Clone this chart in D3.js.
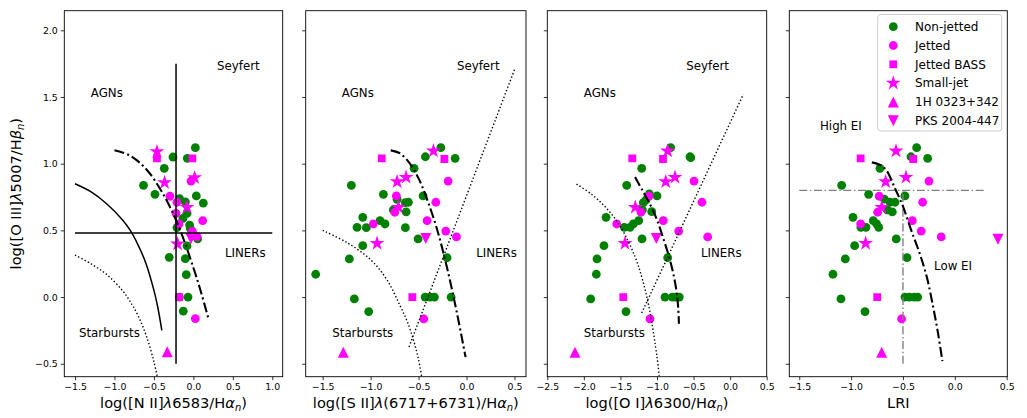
<!DOCTYPE html>
<html><head><meta charset="utf-8">
<script src="https://cdn.jsdelivr.net/npm/d3@7"></script>
<style>
body{margin:0;background:#fff}
svg{display:block}
text{font-family:"DejaVu Sans",sans-serif;fill:#000}
</style>
</head><body>
<svg id="c" width="1027" height="418"></svg>
<script>
// ---------------- DATA ----------------
const seriesNames = ["Non-jetted","Jetted","Jetted BASS","Small-jet","1H 0323+342","PKS 2004-447"];
const yTicks = [-0.5, 0, 0.5, 1.0, 1.5, 2.0];
const xTicksNII = [-1.5, -1.0, -0.5, 0, 0.5, 1.0];
const xTicksSII = [-1.5, -1.0, -0.5, 0, 0.5];
const xTicksOI  = [-2.5, -2.0, -1.5, -1.0, -0.5, 0, 0.5];
const xTicksLRI = [-1.5, -1.0, -0.5, 0, 0.5];

// Panel 1: [N II]
const nonJettedNII = [[0.025,1.12],[-0.259,1.05],[-0.077,1.04],[-0.369,0.965],[-0.632,0.838],[-0.487,0.77],[0.037,0.758],[0.126,0.705],[-0.175,0.738],[-0.102,0.713],[-0.081,0.628],[-0.132,0.59],[-0.048,0.54],[-0.208,0.52],[-0.039,0.514],[0.054,0.436],[-0.081,0.383],[-0.306,0.298],[-0.102,0.288],[-0.09,0.168],[-0.179,0.0],[-0.068,0.0],[-0.128,-0.106]];
const jettedNII = [[-0.297,0.756],[-0.208,0.711],[-0.22,0.628],[0.118,0.573],[-0.182,0.548],[-0.013,0.493],[0.046,0.453],[-0.03,0.87],[0.025,-0.162]];
const bassNII = [[-0.462,1.04],[-0.013,1.04],[-0.179,0.0]];
const smallJetNII = [[-0.462,1.09],[-0.365,0.858],[0.016,0.895],[-0.081,0.673],[-0.2,0.398]];
const h0323NII = [[-0.331,-0.41]];
const pksNII = [[-0.03,0.438]];

// Panel 2: [S II]
const nonJettedSII = [[-0.268,1.12],[-0.429,1.052],[-0.119,1.04],[-0.547,0.965],[-1.201,0.838],[-0.867,0.77],[-0.453,0.758],[-0.606,0.711],[-0.638,0.708],[-0.724,0.733],[-0.763,0.653],[-0.63,0.638],[-1.082,0.598],[-0.902,0.573],[-0.85,0.548],[-1.142,0.523],[-1.045,0.52],[-0.638,0.52],[-0.505,0.436],[-1.082,0.385],[-1.222,0.286],[-0.203,0.295],[-1.573,0.171],[-1.17,-0.014],[-0.432,0.0],[-0.38,0.0],[-0.335,0.0],[-0.161,0.0],[-1.02,-0.109]];
const jettedSII = [[-0.192,0.87],[-0.732,0.758],[-0.32,0.711],[-0.748,0.636],[-0.411,0.573],[-0.972,0.548],[-0.216,0.495],[-0.105,0.451],[-0.446,-0.164]];
const bassSII = [[-0.884,1.04],[-0.231,1.035],[-0.565,0.0]];
const smallJetSII = [[-0.345,1.095],[-0.63,0.898],[-0.724,0.865],[-0.71,0.673],[-0.933,0.403]];
const h0323SII = [[-1.285,-0.414]];
const pksSII = [[-0.425,0.44]];

// Panel 3: [O I]
const nonJettedOI = [[-0.813,1.12],[-0.549,1.052],[-0.539,1.045],[-1.209,0.965],[-1.414,0.838],[-1.105,0.773],[-1.0,0.758],[-1.15,0.728],[-1.187,0.708],[-1.2,0.653],[-1.072,0.64],[-1.697,0.598],[-1.25,0.573],[-1.324,0.548],[-1.447,0.523],[-1.369,0.523],[-1.205,0.436],[-1.725,0.385],[-1.82,0.286],[-0.854,0.295],[-1.83,0.171],[-1.907,-0.014],[-0.891,0.0],[-0.79,0.0],[-0.744,0.0],[-0.695,0.0],[-1.424,-0.109]];
const jettedOI = [[-0.494,0.87],[-1.109,0.756],[-0.385,0.711],[-1.219,0.636],[-0.914,0.573],[-1.551,0.548],[-0.703,0.495],[-0.307,0.451],[-1.096,-0.164]];
const bassOI = [[-1.338,1.04],[-0.918,1.035],[-1.461,0.0]];
const smallJetOI = [[-0.854,1.095],[-0.754,0.898],[-0.881,0.865],[-1.297,0.673],[-1.438,0.403]];
const h0323OI = [[-2.121,-0.414]];
const pksOI = [[-1.009,0.44]];

// Panel 4: LRI
const nonJettedLRI = [[-0.368,1.12],[-0.423,1.052],[-0.262,1.04],[-0.722,0.965],[-1.091,0.838],[-0.831,0.77],[-0.481,0.758],[-0.68,0.735],[-0.625,0.711],[-0.577,0.711],[-0.651,0.653],[-0.603,0.638],[-0.982,0.598],[-0.786,0.573],[-0.754,0.548],[-0.905,0.523],[-0.857,0.523],[-0.734,0.523],[-0.565,0.436],[-0.966,0.385],[-1.056,0.286],[-0.461,0.295],[-1.175,0.171],[-1.098,-0.014],[-0.481,0.0],[-0.439,0.0],[-0.391,0.0],[-0.358,0.0],[-0.866,-0.109]];
const jettedLRI = [[-0.249,0.87],[-0.729,0.756],[-0.31,0.711],[-0.744,0.636],[-0.41,0.573],[-0.908,0.548],[-0.324,0.495],[-0.131,0.451],[-0.513,-0.164]];
const bassLRI = [[-0.908,1.04],[-0.401,1.035],[-0.748,0.0]];
const smallJetLRI = [[-0.567,1.095],[-0.471,0.898],[-0.667,0.865],[-0.705,0.673],[-0.86,0.403]];
const h0323LRI = [[-0.705,-0.414]];
const pksLRI = [[0.416,0.433]];

// Demarcation curves
const solidNII = [[-1.5,0.85],[-1.3,0.79],[-1.1,0.70],[-0.9,0.58],[-0.8,0.50],[-0.7,0.39],[-0.6,0.25],[-0.5,0.05],[-0.45,-0.08],[-0.4,-0.25]];
const dottedNII = [[-1.5,0.315],[-1.3,0.25],[-1.1,0.17],[-0.9,0.05],[-0.8,-0.035],[-0.7,-0.14],[-0.6,-0.285],[-0.5,-0.485],[-0.44,-0.65]];
const dashDotNII = [[-1.0,1.10],[-0.8,1.06],[-0.6,0.96],[-0.4,0.79],[-0.2,0.55],[0.0,0.22],[0.1,0.03],[0.19,-0.16]];
const vLineNII = [[-0.22,-0.5],[-0.22,1.75]];
const hLineNII = [[-1.5,0.48],[1.0,0.48]];

const dottedSII = [[-1.5,0.50],[-1.25,0.41],[-1.0,0.28],[-0.83,0.13],[-0.69,-0.07],[-0.62,-0.18],[-0.55,-0.33],[-0.5,-0.47],[-0.467,-0.60]];
const lineSII = [[-0.6,-0.374],[0.5,1.705]];
const dashDotSII = [[-0.79,1.10],[-0.7,1.08],[-0.6,1.01],[-0.5,0.89],[-0.4,0.71],[-0.3,0.49],[-0.2,0.21],[-0.1,-0.12],[-0.01,-0.45]];

const dottedOI = [[-2.1,0.847],[-1.9,0.773],[-1.7,0.672],[-1.5,0.528],[-1.3,0.302],[-1.2,0.133],[-1.1,-0.101],[-1.0,-0.45],[-0.97,-0.59]];
const lineOI = [[-1.21,-0.12],[0.18,1.52]];
const dashDotOI = [[-1.30,0.90],[-1.20,0.80],[-1.10,0.70],[-1.0,0.58],[-0.92,0.45],[-0.85,0.33],[-0.80,0.23],[-0.76,0.13],[-0.73,0.03],[-0.71,-0.08],[-0.70,-0.20]];

const dashDotLRI = [[-0.80,1.01],[-0.72,0.99],[-0.66,0.95],[-0.58,0.82],[-0.50,0.68],[-0.42,0.50],[-0.34,0.33],[-0.27,0.15],[-0.21,-0.07],[-0.16,-0.28],[-0.12,-0.48]];
const hGreyLRI = [[-1.5,0.8],[0.3,0.8]];
const vGreyLRI = [[-0.5,-0.5],[-0.5,0.8]];

// ---------------- LAYOUT / STYLE ----------------
const svg = d3.select("#c");
const yTop = 10.7, yBot = 376.7;
const y = d3.scaleLinear().domain([-0.597, 2.147]).range([yBot, yTop]);

const GREEN = "#008000", MAG = "#ff00ff";
const styles = {
  solid:  {stroke:"#000", width:1.5, dash:null},
  dotted: {stroke:"#000", width:1.4, dash:"1.4,2.2"},
  dashdot:{stroke:"#000", width:2.1, dash:"10,3.2,2,3.2"},
  grey:   {stroke:"#808080", width:1.4, dash:"8,2.6,1.5,2.6"}
};

const panels = [
  {x0:64.3, x1:282.7, dom:[-1.636,1.132], ticks:xTicksNII,
   data:[nonJettedNII,jettedNII,bassNII,smallJetNII,h0323NII,pksNII],
   curves:[[solidNII,"solid"],[dottedNII,"dotted"],[dashDotNII,"dashdot"],[vLineNII,"solid"],[hLineNII,"solid"]],
   labels:[["AGNs",-1.3,1.5],["Seyfert",0.3,1.7],["LINERs",0.4,0.3],["Starbursts",-1.45,-0.3]],
   title:[["log([N II]",""],["λ","it"],["6583/H",""],["α","it"],["n","sub"],[")",""]], ylabels:true},
  {x0:305.7, x1:526, dom:[-1.677,0.62], ticks:xTicksSII,
   data:[nonJettedSII,jettedSII,bassSII,smallJetSII,h0323SII,pksSII],
   curves:[[dottedSII,"dotted"],[lineSII,"dotted"],[dashDotSII,"dashdot"]],
   labels:[["AGNs",-1.3,1.5],["Seyfert",-0.1,1.7],["LINERs",0.1,0.3],["Starbursts",-1.4,-0.3]],
   title:[["log([S II]",""],["λ","it"],["(6717+6731)/H",""],["α","it"],["n","sub"],[")",""]]},
  {x0:547.3, x1:766.7, dom:[-2.5,0.5], ticks:xTicksOI,
   data:[nonJettedOI,jettedOI,bassOI,smallJetOI,h0323OI,pksOI],
   curves:[[dottedOI,"dotted"],[lineOI,"dotted"],[dashDotOI,"dashdot"]],
   labels:[["AGNs",-2.0,1.5],["Seyfert",-0.6,1.7],["LINERs",-0.4,0.3],["Starbursts",-2.0,-0.3]],
   title:[["log([O I]",""],["λ","it"],["6300/H",""],["α","it"],["n","sub"],[")",""]]},
  {x0:789.3, x1:1007.3, dom:[-1.596,0.506], ticks:xTicksLRI,
   data:[nonJettedLRI,jettedLRI,bassLRI,smallJetLRI,h0323LRI,pksLRI],
   curves:[[hGreyLRI,"grey"],[vGreyLRI,"grey"],[dashDotLRI,"dashdot"]],
   labels:[["High EI",-1.3,1.25],["Low EI",-0.2,0.2]],
   title:[["LRI",""]], legend:true}
];

// marker definitions
const triUp = s => `M0,${-s/2}L${s/2},${s/2}L${-s/2},${s/2}Z`;
const triDown = s => `M0,${s/2}L${s/2},${-s/2}L${-s/2},${-s/2}Z`;
const markers = [
  {color:GREEN, path:d3.symbol(d3.symbolCircle, Math.PI*4.4*4.4)()},
  {color:MAG,   path:d3.symbol(d3.symbolCircle, Math.PI*4.4*4.4)()},
  {color:MAG,   path:d3.symbol(d3.symbolSquare, 7.8*7.8)()},
  {color:MAG,   path:d3.symbol(d3.symbolStar, 7.8*7.8/0.8908130915292852)()},
  {color:MAG,   path:triUp(11)},
  {color:MAG,   path:triDown(11)}
];

const fmt = d3.format(".1f");
const defs = svg.append("defs");

panels.forEach((p, i) => {
  const x = d3.scaleLinear().domain(p.dom).range([p.x0, p.x1]);
  const g = svg.append("g");
  defs.append("clipPath").attr("id","clip"+i).append("rect")
    .attr("x",p.x0).attr("y",yTop).attr("width",p.x1-p.x0).attr("height",yBot-yTop);

  const xa = d3.axisBottom(x).tickValues(p.ticks).tickFormat(fmt).tickSize(3.5).tickPadding(3);
  const gx = g.append("g").attr("transform",`translate(0,${yBot})`).call(xa);
  const ya = d3.axisLeft(y).tickValues(yTicks).tickFormat(p.ylabels ? fmt : "").tickSize(3.5).tickPadding(3);
  const gy = g.append("g").attr("transform",`translate(${p.x0},0)`).call(ya);
  [gx,gy].forEach(a=>{
    a.select(".domain").remove();
    a.selectAll("line").attr("stroke","#000").attr("stroke-width",0.8);
    a.selectAll("text").attr("font-family","DejaVu Sans").attr("font-size",9.4).attr("fill","#000");
  });

  const plot = g.append("g").attr("clip-path",`url(#clip${i})`);
  const line = d3.line().x(d=>x(d[0])).y(d=>y(d[1])).curve(d3.curveCatmullRom.alpha(0.5));
  p.data.forEach((arr, k) => {
    plot.append("g").selectAll("path").data(arr).join("path")
      .attr("d", markers[k].path)
      .attr("fill", markers[k].color)
      .attr("transform", d=>`translate(${x(d[0])},${y(d[1])})`);
  });
  p.curves.forEach(([arr, st]) => {
    const s = styles[st];
    plot.append("path").attr("d", line(arr)).attr("fill","none")
      .attr("stroke", s.stroke).attr("stroke-width", s.width)
      .attr("stroke-dasharray", s.dash);
  });
  p.labels.forEach(([t,lx,ly]) => {
    g.append("text").attr("x",x(lx)).attr("y",y(ly)).attr("font-size",11.8).text(t);
  });
  g.append("rect").attr("x",p.x0).attr("y",yTop).attr("width",p.x1-p.x0).attr("height",yBot-yTop)
    .attr("fill","none").attr("stroke","#000").attr("stroke-width",0.9);
  const tt = g.append("text").attr("x",(p.x0+p.x1)/2).attr("y",408).attr("text-anchor","middle").attr("font-size",14.6);
  p.title.forEach(([s,kind]) => {
    const ts = tt.append("tspan").text(s);
    if (kind==="it") ts.attr("font-style","italic");
    if (kind==="sub") ts.attr("font-style","italic").attr("font-size",10).attr("dy",3);
    if (kind==="" && s===")" ) ts.attr("dy",-3);
  });

  if (p.legend) {
    const lg = g.append("g");
    const lx0 = 877.7, ly0 = 14.5, lw = 124, lh = 116.5;
    lg.append("rect").attr("x",lx0).attr("y",ly0).attr("width",lw).attr("height",lh).attr("rx",3)
      .attr("fill","#fff").attr("fill-opacity",0.8).attr("stroke","#cccccc").attr("stroke-width",1);
    seriesNames.forEach((nm, k) => {
      const cy = 26.7 + k*18.8;
      lg.append("path").attr("d", markers[k].path).attr("fill", markers[k].color)
        .attr("transform",`translate(893.3,${cy})`);
      lg.append("text").attr("x",915).attr("y",cy).attr("dy","0.36em").attr("font-size",12).text(nm);
    });
  }
});

const yt = svg.append("text").attr("transform","translate(21,193.7) rotate(-90)")
  .attr("text-anchor","middle").attr("font-size",14.6);
[["log([O III]",""],["λ","it"],["5007/H",""],["β","it"],["n","sub"],[")",""]].forEach(([s,kind])=>{
  const ts = yt.append("tspan").text(s);
  if (kind==="it") ts.attr("font-style","italic");
  if (kind==="sub") ts.attr("font-style","italic").attr("font-size",10).attr("dy",3);
  if (kind==="" && s===")") ts.attr("dy",-3);
});
</script>
</body></html>
